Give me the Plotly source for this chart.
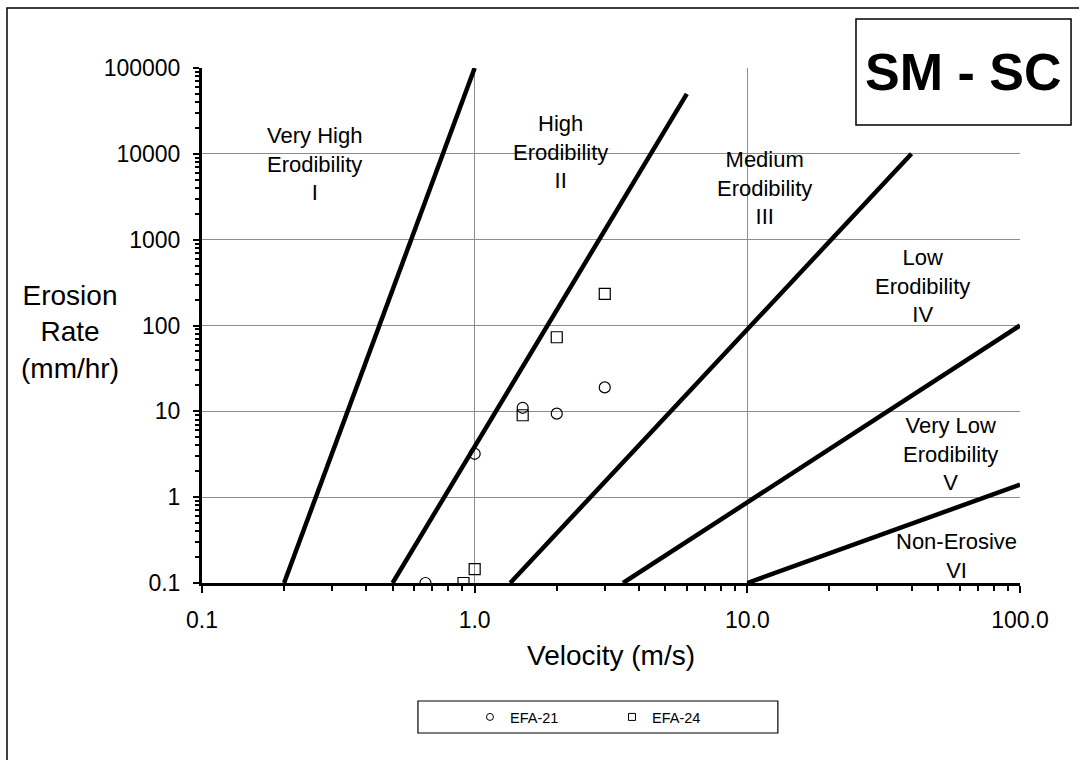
import numpy as np
import plotly.graph_objects as go

# ---------------- data ----------------
# EFA test results (velocity m/s, erosion rate mm/hr)
efa21_velocity = [0.66, 1.0, 1.5, 2.0, 3.0]
efa21_rate = [0.1, 3.2, 11.0, 9.4, 19.0]
efa24_velocity = [0.91, 1.0, 1.5, 2.0, 3.0]
efa24_rate = [0.1, 0.145, 9.0, 73.0, 234.0]

# Erodibility category boundary lines (start / end points)
boundary_v_start = [0.2, 0.5, 1.35, 3.5, 10.0]
boundary_r_start = [0.1, 0.1, 0.1, 0.1, 0.1]
boundary_v_end = [1.0, 6.0, 40.0, 100.0, 100.0]
boundary_r_end = [100000, 50000, 10000, 100, 1.4]

# Category labels
zone_labels = [
    "Very High<br>Erodibility<br>I",
    "High<br>Erodibility<br>II",
    "Medium<br>Erodibility<br>III",
    "Low<br>Erodibility<br>IV",
    "Very Low<br>Erodibility<br>V",
    "Non-Erosive<br>VI",
]
zone_label_v = [0.258, 2.06, 11.6, 43.8, 55.8, 58.5]
zone_label_r = [7600, 10500, 4000, 288, 3.2, 0.207]

x_tick_vals = [0.1, 1, 10, 100]
x_tick_text = ["0.1", "1.0", "10.0", "100.0"]
y_tick_vals = [0.1, 1, 10, 100, 1000, 10000, 100000]
y_tick_text = ["0.1", "1", "10", "100", "1000", "10000", "100000"]

FONT = "Liberation Sans, Arial, sans-serif"

fig = go.Figure()

for vs, rs, ve, re_ in zip(boundary_v_start, boundary_r_start, boundary_v_end, boundary_r_end):
    fig.add_trace(go.Scatter(
        x=[vs, ve], y=[rs, re_], mode="lines",
        line=dict(color="black", width=4.5),
        showlegend=False, hoverinfo="skip",
    ))

fig.add_trace(go.Scatter(
    x=efa21_velocity, y=efa21_rate, mode="markers", name="EFA-21",
    marker=dict(symbol="circle-open", size=11, color="black", line=dict(width=1.2, color="black")),
    showlegend=False,
))
fig.add_trace(go.Scatter(
    x=efa24_velocity, y=efa24_rate, mode="markers", name="EFA-24",
    marker=dict(symbol="square-open", size=11, color="black", line=dict(width=1.2, color="black")),
    showlegend=False,
))
# legend entries (small symbols as in the original)
fig.add_trace(go.Scatter(
    x=[None], y=[None], mode="markers", name="EFA-21",
    marker=dict(symbol="circle-open", size=7, color="black", line=dict(width=1, color="black")),
))
fig.add_trace(go.Scatter(
    x=[None], y=[None], mode="markers", name="EFA-24",
    marker=dict(symbol="square-open", size=7, color="black", line=dict(width=1, color="black")),
))

annotations = []
for txt, v, r in zip(zone_labels, zone_label_v, zone_label_r):
    annotations.append(dict(
        x=np.log10(v), y=np.log10(r), xref="x", yref="y", text=txt,
        showarrow=False, font=dict(family=FONT, size=22, color="black"),
        align="center", xanchor="center", yanchor="middle",
    ))

annotations.append(dict(
    x=0.5, y=-0.1417, xref="paper", yref="paper", text="Velocity (m/s)",
    showarrow=False, font=dict(family=FONT, size=28, color="black"),
    xanchor="center", yanchor="middle",
))
annotations.append(dict(
    x=-0.1614, y=0.4874, xref="paper", yref="paper", text="Erosion<br>Rate<br>(mm/hr)",
    showarrow=False, font=dict(family=FONT, size=28, color="black"),
    xanchor="center", yanchor="middle", align="center",
))
annotations.append(dict(
    x=0.9303, y=0.9922, xref="paper", yref="paper", text="<b>SM - SC</b>",
    showarrow=False, font=dict(family=FONT, size=52, color="black"),
    xanchor="center", yanchor="middle",
))

shapes = [
    # outer chart border
    dict(type="rect", xref="paper", yref="paper", x0=-0.2384, y0=-0.363, x1=1.08, y1=1.1165,
         line=dict(color="black", width=1.5), fillcolor="rgba(0,0,0,0)", layer="below"),
    # title box
    dict(type="rect", xref="paper", yref="paper", x0=0.7995, y0=0.8893, x1=1.0624, y1=1.0951,
         line=dict(color="black", width=1.5), fillcolor="white", layer="above"),
    # legend box
    dict(type="rect", xref="paper", yref="paper", x0=0.264, y0=-0.2913, x1=0.704, y1=-0.2291,
         line=dict(color="black", width=1.2), fillcolor="rgba(0,0,0,0)", layer="above"),
]

minor_x = [0.2, 0.3, 0.4, 0.5, 0.6, 0.7, 0.8, 0.9, 2, 3, 4, 5, 6, 7, 8, 9,
           20, 30, 40, 50, 60, 70, 80, 90]
minor_y = []
for d in [0.1, 1, 10, 100, 1000, 10000]:
    minor_y += [d * k for k in range(2, 10)]

fig.update_layout(
    width=1079, height=760,
    margin=dict(l=202, r=59, t=68, b=177),
    paper_bgcolor="white", plot_bgcolor="white",
    font=dict(family=FONT, color="black"),
    showlegend=True,
    legend=dict(
        orientation="h", x=0.3276, y=-0.2602, xanchor="left", yanchor="middle",
        font=dict(family=FONT, size=14.5, color="black"),
        bgcolor="rgba(0,0,0,0)", borderwidth=0, entrywidth=97,
    ),
    annotations=annotations,
    shapes=shapes,
    xaxis=dict(
        type="log", range=[-1, 2],
        tickmode="array", tickvals=x_tick_vals, ticktext=x_tick_text,
        ticks="outside", ticklen=7, tickwidth=2, tickcolor="black",
        ticklabelstandoff=7,
        tickfont=dict(family=FONT, size=23, color="black"),
        showline=True, linecolor="black", linewidth=3,
        showgrid=True, gridcolor="#8c8c8c", gridwidth=1,
        zeroline=False,
        minor=dict(tickmode="array", tickvals=minor_x, ticks="outside", ticklen=5,
                   tickwidth=1.5, tickcolor="black", showgrid=False),
    ),
    yaxis=dict(
        type="log", range=[-1, 5],
        tickmode="array", tickvals=y_tick_vals, ticktext=y_tick_text,
        ticks="outside", ticklen=6, tickwidth=2, tickcolor="black",
        ticklabelstandoff=8,
        tickfont=dict(family=FONT, size=23, color="black"),
        showline=True, linecolor="black", linewidth=3,
        showgrid=True, gridcolor="#8c8c8c", gridwidth=1,
        zeroline=False,
        minor=dict(tickmode="array", tickvals=minor_y, ticks="outside", ticklen=4,
                   tickwidth=1.5, tickcolor="black", showgrid=False),
    ),
)

fig.write_html("out.html")
